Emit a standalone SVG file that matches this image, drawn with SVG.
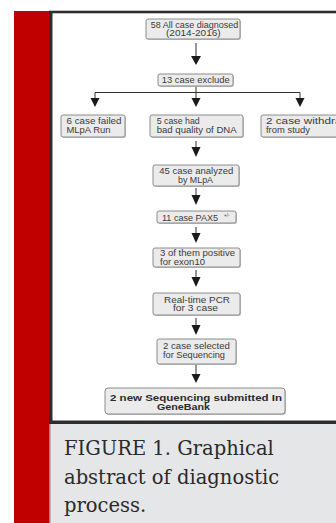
<svg xmlns="http://www.w3.org/2000/svg" width="336" height="523" viewBox="0 0 336 523">
<defs>
<style>
.box{fill:#ebebeb;stroke:#8c8c8c;stroke-width:1}
.sh{fill:#c4c4c4}
.t{font-family:"Liberation Sans",Arial,sans-serif;font-size:8.2px;fill:#3a3a3a}
.sup{font-family:"Liberation Sans",Arial,sans-serif;font-size:4.5px;fill:#3a3a3a}
.b{font-weight:bold;fill:#2a2a2a;font-size:8.3px}
.ln{stroke:#333;stroke-width:1;fill:none}
.hd{fill:#1a1a1a}
.cap{font-family:"DejaVu Serif","Liberation Serif",serif;font-size:19.5px;fill:#2a2a2a}
</style>
</defs>
<rect x="0" y="0" width="336" height="523" fill="#ffffff"/>
<rect x="14" y="11" width="36" height="512" fill="#c00000"/>
<rect x="49" y="10.7" width="287" height="413.3" fill="#2e2e2e"/>
<rect x="52.5" y="13.3" width="283.5" height="407.2" fill="#ffffff"/>
<rect x="49" y="424" width="287" height="99" fill="#e5e6e8"/>
<rect x="49" y="424" width="1.5" height="99" fill="#8a8a8a"/>

<g id="connectors">
<path class="ln" d="M196 43V58"/><path class="hd" d="M191 56H201L196 65Z"/>
<path class="ln" d="M196 86V92.5M95 92.5H300M95 92.5V100M196 92.5V100M300 92.5V100"/>
<path class="hd" d="M90.5 98H99.5L95 107Z"/><path class="hd" d="M191.5 98H200.5L196 107Z"/><path class="hd" d="M295.5 98H304.5L300 107Z"/>
<path class="ln" d="M196 141V149"/><path class="hd" d="M191.5 147H200.5L196 157Z"/>
<path class="ln" d="M196 188V197"/><path class="hd" d="M191.5 195H200.5L196 205Z"/>
<path class="ln" d="M196 227V235"/><path class="hd" d="M191.5 233H200.5L196 243Z"/>
<path class="ln" d="M196 270V279"/><path class="hd" d="M191.5 277H200.5L196 287Z"/>
<path class="ln" d="M196 318V327"/><path class="hd" d="M191.5 325H200.5L196 335Z"/>
<path class="ln" d="M196 365V375"/><path class="hd" d="M191.5 374H200.5L196 383Z"/>
</g>

<g id="n1"><rect class="sh" x="147" y="20" width="94" height="20" rx="2"/><rect class="box" x="146" y="19" width="94" height="20" rx="2"/>
<text class="t" x="150.7" y="27.5" textLength="87.6" lengthAdjust="spacingAndGlyphs">58 All case diagnosed</text><text class="t" x="166" y="36" textLength="54.7" lengthAdjust="spacingAndGlyphs">(2014-2016)</text></g>
<g id="n2"><rect class="sh" x="159" y="75" width="75" height="12" rx="2"/><rect class="box" x="158" y="74" width="75" height="12" rx="2"/>
<text class="t" x="161.7" y="83" textLength="68" lengthAdjust="spacingAndGlyphs">13 case exclude</text></g>
<g id="n3"><rect class="sh" x="62" y="116" width="64" height="22" rx="2"/><rect class="box" x="61" y="115" width="64" height="22" rx="2"/>
<text class="t" x="66.5" y="124" textLength="55" lengthAdjust="spacingAndGlyphs">6 case failed</text><text class="t" x="66.5" y="132.5" textLength="44" lengthAdjust="spacingAndGlyphs">MLpA Run</text></g>
<g id="n4"><rect class="sh" x="151" y="116" width="93" height="22" rx="2"/><rect class="box" x="150" y="115" width="93" height="22" rx="2"/>
<text class="t" x="156.7" y="124" textLength="43" lengthAdjust="spacingAndGlyphs">5 case had</text><text class="t" x="156.7" y="132.5" textLength="80" lengthAdjust="spacingAndGlyphs">bad quality of DNA</text></g>
<g id="n5"><rect class="sh" x="262" y="116" width="90" height="22" rx="2"/><rect class="box" x="261" y="115" width="90" height="22" rx="2"/>
<text class="t" x="266" y="124" textLength="84" lengthAdjust="spacingAndGlyphs">2 case withdraw</text><text class="t" x="266" y="132.5" textLength="44" lengthAdjust="spacingAndGlyphs">from study</text></g>
<g id="n6"><rect class="sh" x="154" y="166" width="86" height="21" rx="2"/><rect class="box" x="153" y="165" width="86" height="21" rx="2"/>
<text class="t" x="159.3" y="174" textLength="74" lengthAdjust="spacingAndGlyphs">45 case analyzed</text><text class="t" x="178" y="182.5" textLength="35" lengthAdjust="spacingAndGlyphs">by MLpA</text></g>
<g id="n7"><rect class="sh" x="158" y="212" width="79" height="12" rx="2"/><rect class="box" x="157" y="211" width="79" height="12" rx="2"/>
<text class="t" x="162" y="220.5" textLength="56" lengthAdjust="spacingAndGlyphs">11 case PAX5</text><text class="sup" x="224" y="216.5">+/-</text></g>
<g id="n8"><rect class="sh" x="154" y="249" width="87" height="19" rx="2"/><rect class="box" x="153" y="248" width="87" height="19" rx="2"/>
<text class="t" x="160" y="256" textLength="75" lengthAdjust="spacingAndGlyphs">3 of them positive</text><text class="t" x="160" y="264.5" textLength="45" lengthAdjust="spacingAndGlyphs">for exon10</text></g>
<g id="n9"><rect class="sh" x="154" y="294" width="87" height="22" rx="2"/><rect class="box" x="153" y="293" width="87" height="22" rx="2"/>
<text class="t" x="164" y="302.5" textLength="66" lengthAdjust="spacingAndGlyphs">Real-time PCR</text><text class="t" x="173" y="311" textLength="45" lengthAdjust="spacingAndGlyphs">for 3 case</text></g>
<g id="n10"><rect class="sh" x="158" y="340" width="79" height="25" rx="2"/><rect class="box" x="157" y="339" width="79" height="25" rx="2"/>
<text class="t" x="163" y="349" textLength="67" lengthAdjust="spacingAndGlyphs">2 case selected</text><text class="t" x="163" y="357.5" textLength="62" lengthAdjust="spacingAndGlyphs">for Sequencing</text></g>
<g id="n11"><rect class="sh" x="106" y="389" width="180" height="26" rx="3"/><rect class="box" x="105" y="388" width="180" height="26" rx="3"/>
<text class="t b" x="110" y="400.5" textLength="172" lengthAdjust="spacingAndGlyphs">2 new Sequencing submitted In</text><text class="t b" x="157" y="410" textLength="53" lengthAdjust="spacingAndGlyphs">GeneBank</text></g>

<g id="caption">
<text class="cap" x="64" y="455">FIGURE 1. Graphical</text>
<text class="cap" x="64" y="484">abstract of diagnostic</text>
<text class="cap" x="64" y="512">process.</text>
</g>
</svg>
